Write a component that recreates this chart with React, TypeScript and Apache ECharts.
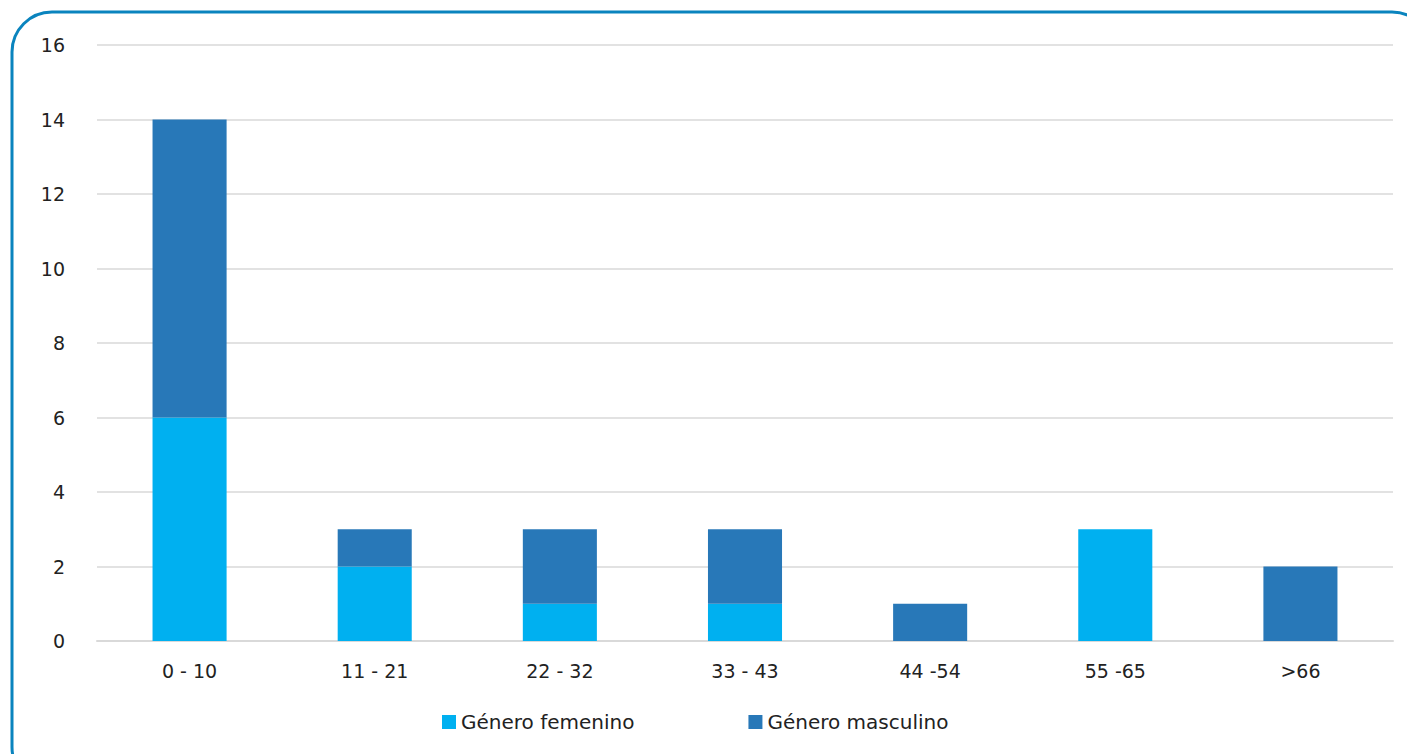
import React, { useEffect, useRef } from "react";
import * as echarts from "echarts";

const categories = ["0 - 10", "11 - 21", "22 - 32", "33 - 43", "44 -54", "55 -65", ">66"];
const femenino = [6, 2, 1, 1, 0, 3, 0];
const masculino = [8, 1, 2, 2, 1, 0, 2];
const seriesNames = ["Género femenino", "Género masculino"];

export default function App() {
  const ref = useRef<HTMLDivElement>(null);
  useEffect(() => {
    document.body.style.margin = "0";
    document.body.style.overflow = "hidden";
    const chart = echarts.init(ref.current!, null, { renderer: "svg" });
    const font = "'DejaVu Sans', sans-serif";
    chart.setOption({
      animation: false,
      backgroundColor: "#ffffff",
      graphic: [
        {
          type: "rect",
          shape: { x: 12, y: 12, width: 1420, height: 775, r: 40 },
          style: { fill: "none", stroke: "#0A84BE", lineWidth: 3 },
          silent: true,
        },
      ],
      grid: { left: 97, right: 14, top: 45, bottom: 113, containLabel: false },
      legend: {
        left: 437,
        top: 707,
        itemWidth: 14,
        itemHeight: 14,
        itemGap: 114,
        icon: "rect",
        textStyle: { fontSize: 20, color: "#222", fontFamily: font },
        data: seriesNames,
      },
      xAxis: {
        type: "category",
        data: categories,
        axisLine: { lineStyle: { color: "#D9D9D9", width: 2 } },
        axisTick: { show: false },
        axisLabel: { fontSize: 19, color: "#222", margin: 20, fontFamily: font },
      },
      yAxis: {
        type: "value",
        min: 0,
        max: 16,
        interval: 2,
        axisLine: { show: false },
        axisTick: { show: false },
        splitLine: { lineStyle: { color: "#D9D9D9", width: 1.5 } },
        axisLabel: { fontSize: 19, color: "#222", margin: 32, fontFamily: font },
      },
      series: [
        {
          name: seriesNames[0],
          type: "bar",
          stack: "total",
          data: femenino,
          barWidth: "40%",
          itemStyle: { color: "#00B0F0" },
        },
        {
          name: seriesNames[1],
          type: "bar",
          stack: "total",
          data: masculino,
          barWidth: "40%",
          itemStyle: { color: "#2878B8" },
        },
      ],
    });
    return () => chart.dispose();
  }, []);
  return <div ref={ref} style={{ width: 1407, height: 754 }} />;
}
